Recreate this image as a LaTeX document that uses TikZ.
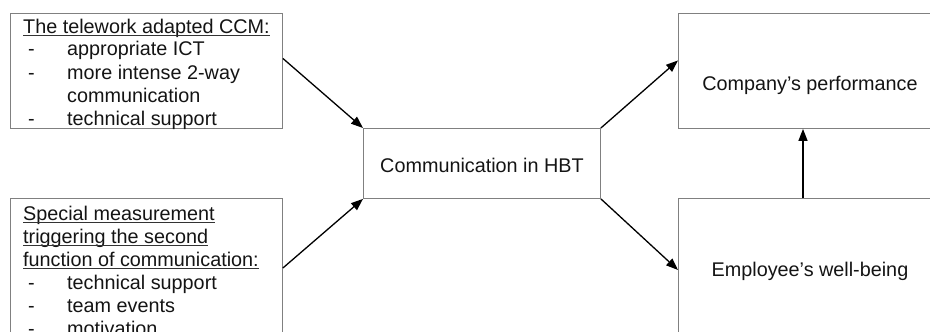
\documentclass[tikz,border=0pt]{standalone}
\usepackage{fontspec}
\setmainfont{Liberation Sans}
\usetikzlibrary{arrows.meta}
\begin{document}
\begin{tikzpicture}[x=1pt,y=-1pt,
  box/.style={draw=black!50,line width=0.9pt,inner sep=0pt,anchor=north west},
  txt/.style={inner sep=0pt,anchor=base west,text=black!92,font=\fontsize{19.8}{23}\selectfont},
  ctxt/.style={inner sep=0pt,anchor=base,text=black!92,font=\fontsize{19.8}{23}\selectfont},
  arr/.style={line width=1.3pt,-{Triangle[length=12pt,width=9pt]}},
  ul/.style={line width=0.9pt,black!80}]
\useasboundingbox (0,0) rectangle (930,332);
\clip (0,0) rectangle (930,332);
% boxes
\node[box,minimum width=272pt,minimum height=115pt] (b1) at (10,13) {};
\node[box,minimum width=272pt,minimum height=150pt] (b2) at (10,198) {};
\node[box,minimum width=237pt,minimum height=70pt] (m) at (363,128) {};
\node[box,minimum width=270pt,minimum height=115pt] (c) at (678,13) {};
\node[box,minimum width=270pt,minimum height=150pt] (e) at (678,198) {};
% texts box 1
\node[txt] (h1) at (23,33) {The telework adapted CCM:};
\draw[ul] ([yshift=-2.2pt]h1.base west) -- ([yshift=-2.2pt]h1.base east);
\node[txt] (d11) at (28,56) {-};
\node[txt] (i11) at (67,56) {appropriate ICT};
\node[txt] (d12) at (28,79) {-};
\node[txt] (i12) at (67,79) {more intense 2-way};
\node[txt] (i12b) at (67,102) {communication};
\node[txt] (d13) at (28,125) {-};
\node[txt] (i13) at (67,125) {technical support};
% texts box 2
\node[txt] (h21) at (23,220) {Special measurement};
\node[txt] (h22) at (23,243) {triggering the second};
\node[txt] (h23) at (23,266) {function of communication:};
\foreach \h in {h21,h22,h23}
  \draw[ul] ([yshift=-2.2pt]\h.base west) -- ([yshift=-2.2pt]\h.base east);
\node[txt] (d21) at (28,289) {-};
\node[txt] (i21) at (67,289) {technical support};
\node[txt] (d22) at (28,312) {-};
\node[txt] (i22) at (67,312) {team events};
\node[txt] (d23) at (28,335) {-};
\node[txt] (i23) at (67,335) {motivation};
% centered texts
\node[ctxt] (mt) at (482,172) {Communication in HBT};
\node[ctxt] (ct) at (810,90) {Company’s performance};
\node[ctxt] (et) at (810,276) {Employee’s well-being};
% arrows
\draw[arr] ([yshift=12.5pt]b1.east) -- (m.north west);
\draw[arr] ([yshift=-70pt]b2.north east) -- (m.south west);
\draw[arr] (m.north east) -- ([yshift=10.5pt]c.west);
\draw[arr] (m.south east) -- ([yshift=-72pt]e.north west);
\draw[arr] ([xshift=125pt]e.north west) -- ([xshift=125pt]c.south west);
\end{tikzpicture}
\end{document}
